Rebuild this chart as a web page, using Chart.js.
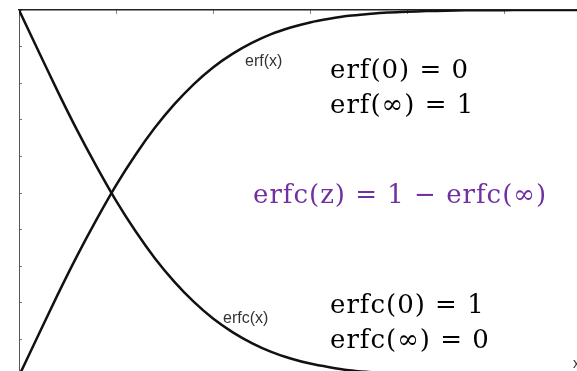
<!DOCTYPE html>
<html>
<head>
<meta charset="utf-8">
<script src="https://cdn.jsdelivr.net/npm/chart.js@4"></script>
<style>
  html, body { margin: 0; padding: 0; background: #fff; overflow: hidden; }
  #wrap { width: 577px; height: 371px; overflow: hidden; }
</style>
</head>
<body>
<div id="wrap"><canvas id="erfChart" width="577" height="380"></canvas></div>
<script>
// valeurs
const xValues = [0, 0.1, 0.2, 0.3, 0.4, 0.5, 0.6, 0.7, 0.8, 0.9, 1.0, 1.1, 1.2, 1.3, 1.4,
                 1.5, 1.6, 1.7, 1.8, 1.9, 2.0, 2.1, 2.2, 2.3, 2.4, 2.5, 2.6, 2.7, 2.8, 2.9];
const erfValues = [0, 0.112, 0.223, 0.329, 0.428, 0.521, 0.604, 0.678, 0.742, 0.797, 0.843,
                   0.880, 0.910, 0.934, 0.952, 0.966, 0.976, 0.984, 0.989, 0.993, 0.995,
                   0.997, 0.998, 0.999, 0.9993, 0.9996, 0.9998, 0.9999, 0.9999, 1.0];
const erfcValues = [1, 0.888, 0.777, 0.671, 0.572, 0.479, 0.396, 0.322, 0.258, 0.203, 0.157,
                    0.120, 0.090, 0.066, 0.048, 0.034, 0.024, 0.016, 0.011, 0.007, 0.005,
                    0.003, 0.002, 0.001, 0.0007, 0.0004, 0.0002, 0.0001, 0.0001, 0];
const curveLabels = ['erf(x)', 'erfc(x)'];
const notes = ['erf(0) = 0', 'erf(∞) = 1', 'erfc(z) = 1 − erfc(∞)', 'erfc(0) = 1', 'erfc(∞) = 0'];

const toPoints = (ys) => xValues.map((x, i) => ({ x: x, y: ys[i] }));

// textes posés sur le graphique
const textPlugin = {
    id: 'texts',
    afterDraw(chart) {
        const c = chart.ctx;
        c.save();
        c.textAlign = 'left';
        c.textBaseline = 'alphabetic';
        c.fillStyle = '#333';
        c.font = '16px "Liberation Sans", Arial, sans-serif';
        c.fillText(curveLabels[0], 245, 66);
        c.fillText(curveLabels[1], 223, 323);

        c.font = '26px "DejaVu Serif", serif';
        c.letterSpacing = '1px';
        c.fillStyle = '#000';
        c.fillText(notes[0], 330, 78);
        c.fillText(notes[1], 330, 113);
        c.fillText(notes[3], 330, 313);
        c.fillText(notes[4], 330, 348);
        c.fillStyle = '#7030a0';
        c.fillText(notes[2], 253, 203);

        c.letterSpacing = '0px';
        c.fillStyle = '#333';
        c.font = '14px "Liberation Sans", Arial, sans-serif';
        c.fillText('x', 573, 368);
        c.restore();
    }
};

const lineStyle = {
    borderColor: '#111',
    borderWidth: 2.5,
    pointRadius: 0,
    tension: 0.3,
    fill: false
};

new Chart(document.getElementById('erfChart').getContext('2d'), {
    type: 'line',
    data: {
        datasets: [
            Object.assign({ label: curveLabels[0], data: toPoints(erfValues) }, lineStyle),
            Object.assign({ label: curveLabels[1], data: toPoints(erfcValues) }, lineStyle)
        ]
    },
    options: {
        responsive: false,
        animation: false,
        layout: { padding: { left: 0, top: 0, right: 0, bottom: 4 } },
        plugins: { legend: { display: false }, tooltip: { enabled: false } },
        scales: {
            x: {
                type: 'linear',
                position: 'top',
                min: 0,
                max: 2.876,
                ticks: { display: false, stepSize: 0.5 },
                grid: { drawOnChartArea: false, tickLength: -4, color: '#888' },
                border: { color: '#222', width: 1.5 },
                afterFit(scale) { scale.height = 10; }
            },
            y: {
                min: 0,
                max: 1,
                ticks: { display: false, stepSize: 0.1 },
                grid: { drawOnChartArea: false, tickLength: -3, color: '#777' },
                border: { color: '#555', width: 1 },
                afterFit(scale) { scale.width = 19; }
            }
        }
    },
    plugins: [textPlugin]
});
</script>
</body>
</html>
